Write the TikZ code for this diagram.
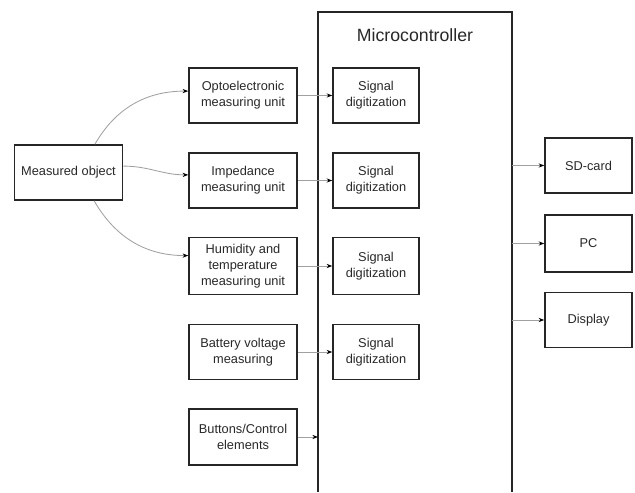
\documentclass[tikz,border=0pt]{standalone}
\usepackage{fontspec}
\setmainfont{Liberation Sans}
\usetikzlibrary{arrows.meta}
\definecolor{wiregray}{RGB}{160,160,160}
\definecolor{inkgray}{RGB}{40,40,40}

\begin{document}
\begin{tikzpicture}[x=0.025cm,y=0.025cm,
  unit/.style={draw=black!85,line width=1.1pt,align=center,inner sep=1pt,
    minimum width=2.7cm,minimum height=1.375cm,text=inkgray,
    font=\fontsize{9.1}{11.4}\selectfont},
  digit/.style={unit,minimum width=2.15cm},
  outunit/.style={unit,minimum width=2.175cm},
  wire/.style={draw=wiregray,line width=0.6pt,-{Stealth[length=4pt,width=3pt,black]}}]
\useasboundingbox (0,0) rectangle (635,492);

% Microcontroller frame, open at the bottom
\node[minimum width=4.85cm,minimum height=12cm,outer sep=0pt,inner sep=0pt] (mc) at (415,240) {};
\draw[line width=1.4pt,black!85] (mc.south west) -- (mc.north west) -- (mc.north east) -- (mc.south east);
\node[text=inkgray,font=\fontsize{12.6}{15}\selectfont] (mctitle) at (415,457) {Microcontroller};

% Object and measuring units
\node[unit] (meas) at (68.5,319.5) {Measured object};
\node[unit] (opto) at (243,396.5) {Optoelectronic\\measuring unit};
\node[unit] (imped) at (243,311.5) {Impedance\\measuring unit};
\node[unit,minimum height=1.425cm] (humid) at (243,226) {Humidity and\\temperature\\measuring unit};
\node[unit] (batt) at (243,140) {Battery voltage\\measuring};
\node[unit,minimum height=1.4cm] (btn) at (243,55) {Buttons/Control\\elements};

% Signal digitization inside the controller
\node[digit] (sig1) at (376,396.5) {Signal\\digitization};
\node[digit] (sig2) at (376,311.5) {Signal\\digitization};
\node[digit,minimum height=1.425cm] (sig3) at (376,226) {Signal\\digitization};
\node[digit] (sig4) at (376,140) {Signal\\digitization};

% Outputs
\node[outunit] (sd) at (588.5,326.5) {SD-card};
\node[outunit,minimum height=1.425cm] (pc) at (588.5,248.5) {PC};
\node[outunit] (disp) at (588.5,172) {Display};

% Object to measuring units
\draw[wire] ([xshift=0.66cm]meas.north) to[out=60,in=180] ([yshift=0.11cm]opto.west);
\draw[wire] ([yshift=0.16cm]meas.east) to[out=0,in=180] ([yshift=0.14cm]imped.west);
\draw[wire] ([xshift=0.64cm]meas.south) to[out=-60,in=180] ([yshift=0.26cm]humid.west);

% Units to digitization
\draw[wire] (opto) -- (sig1);
\draw[wire] (imped) -- (sig2);
\draw[wire] (humid) -- (sig3);
\draw[wire] (batt) -- (sig4);
\draw[wire] (btn.east) -- (btn.east -| mc.west);

% Controller to outputs
\draw[wire] (mc.east |- sd.west) -- (sd.west);
\draw[wire] (mc.east |- pc.west) -- (pc.west);
\draw[wire] (mc.east |- disp.west) -- (disp.west);
\end{tikzpicture}
\end{document}
